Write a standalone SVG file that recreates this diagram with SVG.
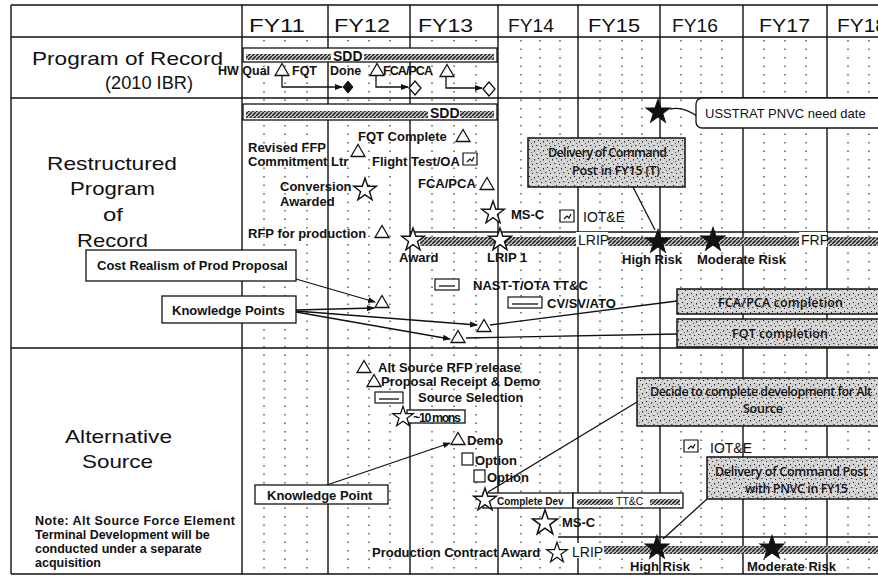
<svg xmlns="http://www.w3.org/2000/svg" width="878" height="577" viewBox="0 0 878 577">
<defs>
<style>
.t{font-family:"Liberation Sans",Arial,sans-serif;fill:#111}
.big{font-size:19px}
.fy{font-size:19px}
.b{font-weight:bold;font-size:13px}
.bs{font-weight:bold;font-size:12.5px}
.n{font-weight:bold;font-size:12.5px}
.r{font-size:14px}
.cs{font-family:"Open Sans","Liberation Sans",sans-serif;font-size:12.5px;font-weight:600;fill:#111}
.grid{stroke:#111;stroke-width:1.4;fill:none}
.dot{stroke:#333;stroke-width:1.2;stroke-dasharray:1.5 7;fill:none}
.box{fill:#fff;stroke:#111;stroke-width:1.3}
.sbox{fill:url(#stip);stroke:#111;stroke-width:1.5}
.con{stroke:#111;stroke-width:1.3;fill:none}
.arr{marker-end:url(#ah)}
.hs{fill:#fff;stroke:#111;stroke-width:1.4}
.bk{fill:#111;stroke:#111;stroke-width:1}
.tri{fill:#fff;stroke:#111;stroke-width:1.3}
.band{fill:url(#hatch)}
.ic{fill:#fff;stroke:#111;stroke-width:1.2}
</style>
<pattern id="hatch" width="4" height="4" patternUnits="userSpaceOnUse">
<rect width="4" height="4" fill="#bbb"/>
<path d="M0,4 L4,0" stroke="#222" stroke-width="1.4"/>
</pattern>
<pattern id="stip" width="9" height="9" patternUnits="userSpaceOnUse">
<rect width="9" height="9" fill="#d2d2d2"/>
<rect x="1" y="2" width="1" height="1" fill="#222"/>
<rect x="5" y="1" width="1.5" height="1" fill="#444"/>
<rect x="3" y="6" width="1" height="1.5" fill="#222"/>
<rect x="7" y="5" width="1" height="1" fill="#111"/>
<rect x="0" y="8" width="1" height="1" fill="#555"/>
<rect x="6" y="8" width="1" height="1" fill="#fff"/>
<rect x="2" y="4" width="1" height="1" fill="#fff"/>
<rect x="8" y="3" width="1" height="1" fill="#fff"/>
</pattern>
<marker id="ah" markerWidth="8" markerHeight="8" refX="7" refY="4" orient="auto" markerUnits="userSpaceOnUse">
<path d="M0,1 L8,4 L0,7 Z" fill="#111"/>
</marker>
<path id="star" d="M0,-12 L2.75,-3.8 L11.41,-3.71 L4.45,1.45 L7.05,9.71 L0,4.7 L-7.05,9.71 L-4.45,1.45 L-11.41,-3.71 L-2.75,-3.8 Z"/>
<path id="tri" d="M0,-6.5 L7,5.5 L-7,5.5 Z"/>
<path id="icon" d="M0,0 H14 V12 H0 Z M4,9 L7,6 L9,8 L11,4"/>
</defs>

<rect width="878" height="577" fill="#fff"/>

<g id="grid">
<path class="grid" d="M11,5 H878 M11,37 H878 M11,98 H878 M11,348 H878 M11,574 H878 M11,5 V574 M242,5 V574"/>
<path class="grid" d="M328,5 V574 M410,5 V574 M498,5 V574 M578,5 V574 M660,5 V574 M743,5 V574 M827,5 V574"/>
<path class="dot" d="M264,40 V572 M285,40 V572 M307,40 V572 M348,40 V572 M369,40 V572 M390,40 V572 M432,40 V572 M454,40 V572 M476,40 V572 M521,40 V572 M540,40 V572 M560,40 V572 M600,40 V572 M622,40 V572 M642,40 V572 M681,40 V572 M701,40 V572 M722,40 V572 M764,40 V572 M785,40 V572 M806,40 V572 M848,40 V572 M869,40 V572"/>
</g>

<g id="headers">
<text class="t fy" x="249" y="32" textLength="56" lengthAdjust="spacingAndGlyphs">FY11</text>
<text class="t fy" x="334" y="32" textLength="56" lengthAdjust="spacingAndGlyphs">FY12</text>
<text class="t fy" x="418" y="32" textLength="55" lengthAdjust="spacingAndGlyphs">FY13</text>
<text class="t fy" x="508" y="32" textLength="46" lengthAdjust="spacingAndGlyphs">FY14</text>
<text class="t fy" x="588" y="32" textLength="52" lengthAdjust="spacingAndGlyphs">FY15</text>
<text class="t fy" x="672" y="32" textLength="46" lengthAdjust="spacingAndGlyphs">FY16</text>
<text class="t fy" x="759" y="32" textLength="51" lengthAdjust="spacingAndGlyphs">FY17</text>
<text class="t fy" x="837" y="32" textLength="50" lengthAdjust="spacingAndGlyphs">FY18</text>
</g>

<g id="row-labels">
<text class="t big" x="32" y="65" textLength="191" lengthAdjust="spacingAndGlyphs">Program of Record</text>
<text class="t big" x="105" y="89" textLength="88" lengthAdjust="spacingAndGlyphs">(2010 IBR)</text>
<text class="t big" x="47" y="170" textLength="130" lengthAdjust="spacingAndGlyphs">Restructured</text>
<text class="t big" x="70" y="195" textLength="85" lengthAdjust="spacingAndGlyphs">Program</text>
<text class="t big" x="103" y="221" textLength="20" lengthAdjust="spacingAndGlyphs">of</text>
<text class="t big" x="77" y="247" textLength="71" lengthAdjust="spacingAndGlyphs">Record</text>
<text class="t big" x="65" y="443" textLength="107" lengthAdjust="spacingAndGlyphs">Alternative</text>
<text class="t big" x="82" y="468" textLength="71" lengthAdjust="spacingAndGlyphs">Source</text>
</g>

<g id="note">
<text class="t n" x="35" y="525" textLength="200">Note: Alt Source  Force Element</text>
<text class="t n" x="35" y="539">Terminal Development will be</text>
<text class="t n" x="35" y="553">conducted under a separate</text>
<text class="t n" x="35" y="567">acquisition</text>
</g>

<g id="connectors">
<path class="con arr" d="M282,76 V87 H342"/>
<path class="con arr" d="M376,76 V87 H408"/>
<path class="con arr" d="M446,77 V88 H482"/>
<path class="con" d="M670,109 Q684,106 698,117"/>
<path class="con" d="M633,187 L655,230"/>
<path class="con arr" d="M296,279 L375,302"/>
<path class="con arr" d="M296,310 L374,308"/>
<path class="con arr" d="M296,311 L477,325"/>
<path class="con arr" d="M296,312 L450,339"/>
<path class="con" d="M490,325 L677,301"/>
<path class="con" d="M466,338 L677,334"/>
<path class="con arr" d="M327,485 L450,443"/>
<path class="con" d="M637,402 L488,492"/>
<path class="con" d="M707,499 L663,539"/>
</g>

<g id="por-sdd">
<rect class="box" x="243" y="48" width="254" height="14"/>
<rect class="band" x="246" y="54" width="248" height="6"/>
<rect x="331" y="49" width="33" height="12" fill="#fff"/>
<text class="t" x="333" y="61" style="font-weight:bold;font-size:14px">SDD</text>
</g>
<g id="por-hwqual">
<use href="#tri" class="tri" x="282" y="70"/>
<text class="t bs" x="218" y="75">HW Qual</text>
</g>
<g id="por-fqt-done">
<text class="t bs" x="292" y="75">FQT <tspan x="330">Done</tspan></text>
<path d="M348,81 L353,87 L348,93 L343,87 Z" class="bk"/>
</g>
<g id="por-fca-pca">
<use href="#tri" class="tri" x="377" y="70"/>
<text class="t bs" x="383" y="75" textLength="50">FCA/PCA</text>
<path d="M415,81 L421,88 L415,95 L409,88 Z" class="tri"/>
</g>
<g id="por-fca-pca-2">
<use href="#tri" class="tri" x="447" y="71"/>
<path d="M489,82 L495,89 L489,96 L483,89 Z" class="tri"/>
</g>

<g id="rp-sdd">
<rect class="box" x="243" y="104" width="254" height="16"/>
<rect class="band" x="246" y="111" width="248" height="7"/>
<rect x="428" y="105" width="32" height="14" fill="#fff"/>
<text class="t" x="430" y="118" style="font-weight:bold;font-size:14px">SDD</text>
</g>
<g id="rp-usstrat">
<use href="#star" class="bk" transform="translate(658,112) scale(1.05)"/>
<rect class="box" x="696" y="98" width="200" height="30" rx="6"/>
<text class="t" x="705" y="118" style="font-size:13px">USSTRAT PNVC need date</text>
</g>
<g id="rp-fqt-complete">
<text class="t b" x="358" y="141">FQT Complete</text>
<use href="#tri" class="tri" x="463" y="136"/>
</g>
<g id="rp-revised-ffp">
<text class="t b" x="248" y="152">Revised FFP</text>
<text class="t b" x="248" y="166">Commitment Ltr</text>
<use href="#tri" class="tri" x="358" y="151"/>
</g>
<g id="rp-flight-test">
<text class="t b" x="372" y="166">Flight Test/OA</text>
<use href="#icon" class="ic" x="463" y="153"/>
</g>
<g id="rp-delivery">
<rect class="sbox" x="528" y="138" width="157" height="49"/>
<text class="cs" x="548" y="157" textLength="119">Delivery of Command</text>
<text class="cs" x="572" y="175" textLength="88">Post in FY15 (T)</text>
</g>
<g id="rp-conversion">
<text class="t b" x="280" y="191">Conversion</text>
<text class="t b" x="280" y="206">Awarded</text>
<use href="#star" class="hs" x="365" y="190"/>
</g>
<g id="rp-fca-pca">
<text class="t b" x="418" y="188">FCA/PCA</text>
<use href="#tri" class="tri" x="487" y="184"/>
</g>
<g id="rp-msc">
<use href="#star" class="hs" x="493" y="213"/>
<text class="t b" x="511" y="219">MS-C</text>
</g>
<g id="rp-iote">
<use href="#icon" class="ic" x="560" y="210"/>
<text class="t r" x="583" y="222">IOT&amp;E</text>
</g>
<g id="rp-rfp">
<text class="t b" x="248" y="238">RFP for production</text>
<use href="#tri" class="tri" x="382" y="232"/>
</g>
<g id="rp-lrip-frp">
<path class="grid" d="M410,232 H878"/>
<rect class="band" x="420" y="237" width="458" height="9"/>
<rect x="576" y="232" width="32" height="15" fill="#fff"/>
<text class="t r" x="578" y="245">LRIP</text>
<rect x="799" y="232" width="28" height="15" fill="#fff"/>
<text class="t r" x="801" y="245">FRP</text>
<use href="#star" class="bk" transform="translate(658,242) scale(1.05)"/>
<use href="#star" class="bk" transform="translate(713,240) scale(1.05)"/>
<text class="t b" x="622" y="264">High Risk</text>
<text class="t b" x="697" y="264">Moderate Risk</text>
</g>
<g id="rp-award">
<use href="#star" class="hs" x="413" y="240"/>
<text class="t b" x="399" y="262">Award</text>
</g>
<g id="rp-lrip1">
<use href="#star" class="hs" x="500" y="240"/>
<text class="t b" x="487" y="262">LRIP 1</text>
</g>
<g id="rp-cost-realism">
<rect class="box" x="86" y="250" width="210" height="31"/>
<text class="t b" x="97" y="270">Cost Realism of Prod Proposal</text>
</g>
<g id="rp-knowledge-points">
<rect class="box" x="162" y="296" width="134" height="27"/>
<text class="t b" x="172" y="315">Knowledge Points</text>
</g>
<g id="rp-kp-1">
<use href="#tri" class="tri" x="382" y="302"/>
</g>
<g id="rp-nast">
<rect class="ic" x="435" y="279" width="24" height="11"/>
<path class="con" d="M439,286 H455" stroke-width="0.8"/>
<text class="t b" x="473" y="290">NAST-T/OTA TT&amp;C</text>
</g>
<g id="rp-cvsv">
<rect class="ic" x="508" y="297" width="34" height="11"/>
<path class="con" d="M512,304 H538" stroke-width="0.8"/>
<text class="t b" x="547" y="308">CV/SV/ATO</text>
</g>
<g id="rp-kp-fcapca">
<use href="#tri" class="tri" x="484" y="326"/>
<rect class="sbox" x="677" y="289" width="210" height="25"/>
<text class="cs" x="718" y="307" textLength="125">FCA/PCA completion</text>
</g>
<g id="rp-kp-fqt">
<use href="#tri" class="tri" x="458" y="337"/>
<rect class="sbox" x="677" y="319" width="210" height="28"/>
<text class="cs" x="732" y="338" textLength="96">FQT completion</text>
</g>

<g id="as-rfp">
<use href="#tri" class="tri" x="364" y="367"/>
<text class="t b" x="378" y="372">Alt Source RFP release</text>
</g>
<g id="as-proposal">
<use href="#tri" class="tri" x="374" y="381"/>
<text class="t b" x="381" y="386">Proposal Receipt &amp; Demo</text>
</g>
<g id="as-source-selection">
<rect class="ic" x="375" y="392" width="28" height="11"/>
<path class="con" d="M379,399 H399" stroke-width="0.8"/>
<text class="t b" x="418" y="402">Source Selection</text>
</g>
<g id="as-10mons">
<rect class="box" x="407" y="410" width="58" height="13"/>
<use href="#star" class="hs" transform="translate(403,417) scale(0.9)"/>
<text class="t bs" x="413" y="422" textLength="48">~10 mons</text>
</g>
<g id="as-demo">
<use href="#tri" class="tri" x="458" y="439"/>
<text class="t b" x="467" y="445">Demo</text>
</g>
<g id="as-option1">
<rect class="ic" x="462" y="453" width="11" height="12"/>
<text class="t b" x="475" y="465">Option</text>
</g>
<g id="as-option2">
<rect class="ic" x="474" y="470" width="11" height="12"/>
<text class="t b" x="487" y="482">Option</text>
</g>
<g id="as-decide">
<rect class="sbox" x="637" y="378" width="250" height="48"/>
<text class="cs" x="650" y="396" textLength="222">Decide to complete development for Alt</text>
<text class="cs" x="743" y="413" textLength="40">Source</text>
</g>
<g id="as-iote">
<use href="#icon" class="ic" x="684" y="440"/>
<text class="t r" x="710" y="453">IOT&amp;E</text>
</g>
<g id="as-delivery">
<rect class="sbox" x="707" y="457" width="180" height="42"/>
<text class="cs" x="715" y="476" textLength="153">Delivery of Command Post</text>
<text class="cs" x="745" y="493" textLength="103">with PNVC in FY15</text>
</g>
<g id="as-knowledge-point">
<rect class="box" x="255" y="485" width="133" height="19"/>
<text class="t b" x="267" y="500">Knowledge Point</text>
</g>
<g id="as-complete-dev">
<rect class="box" x="483" y="493" width="90" height="15"/>
<rect class="box" x="573" y="493" width="110" height="15"/>
<rect class="band" x="577" y="499" width="36" height="6"/>
<rect class="band" x="650" y="499" width="30" height="6"/>
<use href="#star" class="hs" x="485" y="500"/>
<text class="t" x="497" y="505" style="font-weight:bold;font-size:10px">Complete Dev</text>
<text class="t" x="616" y="505" style="font-size:10.5px">TT&amp;C</text>
</g>
<g id="as-msc">
<use href="#star" class="hs" transform="translate(545,523) scale(1.1)"/>
<text class="t b" x="562" y="527">MS-C</text>
</g>
<g id="as-lrip">
<path class="grid" d="M558,537 H878"/>
<rect class="band" x="570" y="546" width="308" height="8"/>
<rect x="570" y="543" width="34" height="15" fill="#fff"/>
<text class="t r" x="572" y="557">LRIP</text>
<use href="#star" class="bk" transform="translate(657,548) scale(1.05)"/>
<use href="#star" class="bk" transform="translate(772,548) scale(1.05)"/>
<text class="t b" x="630" y="571">High Risk</text>
<text class="t b" x="747" y="571">Moderate Risk</text>
</g>
<g id="as-prod-award">
<text class="t b" x="372" y="557">Production Contract Award</text>
<use href="#star" class="hs" transform="translate(557,553) scale(0.9)"/>
</g>
</svg>
